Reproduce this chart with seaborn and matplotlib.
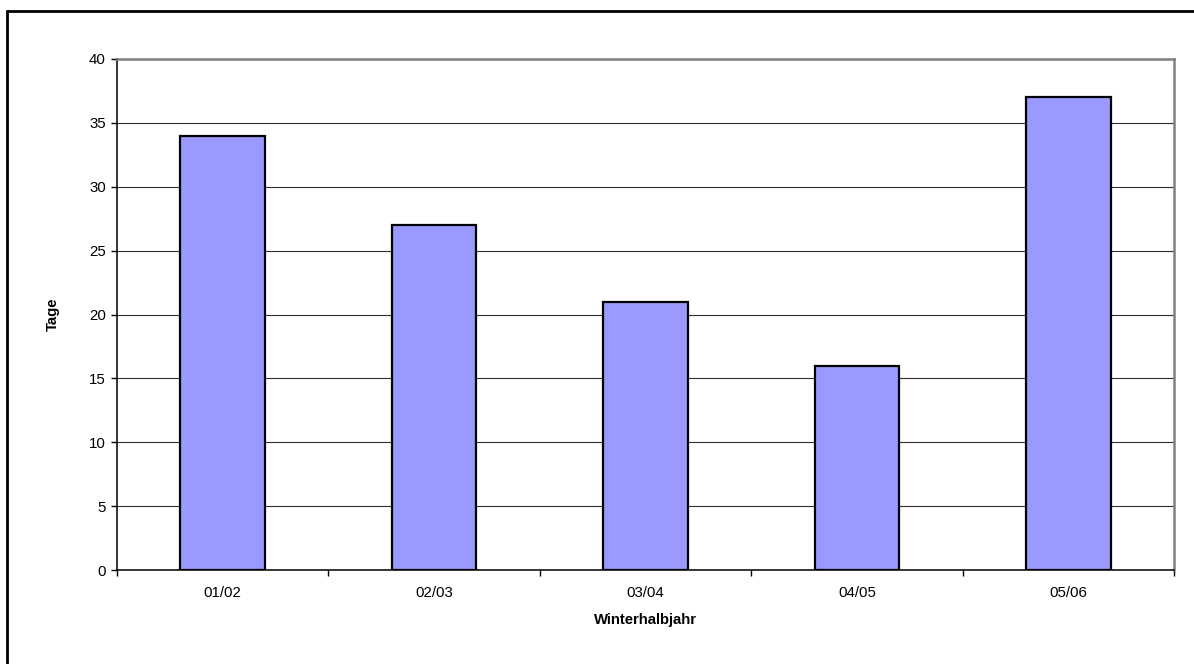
import numpy as np
import pandas as pd
import seaborn as sns
from matplotlib import pyplot as plt
from matplotlib.lines import Line2D

seasons = ['01/02', '02/03', '03/04', '04/05', '05/06']
days = [34, 27, 21, 16, 37]

W, H = 1194, 664

sns.set_style('white')
plt.rcParams['font.family'] = ['Liberation Sans', 'DejaVu Sans']
plt.rcParams['text.color'] = 'black'
plt.rcParams['xtick.labelcolor'] = 'black'
plt.rcParams['ytick.labelcolor'] = 'black'
plt.rcParams['axes.labelcolor'] = 'black'

fig = plt.figure(figsize=(W / 100, H / 100), dpi=100)
ax = fig.add_axes([117 / W, (H - 570) / H, (1174 - 117) / W, (570 - 59) / H])

df = pd.DataFrame({'season': seasons, 'days': days})
sns.barplot(data=df, x='season', y='days', color='#9999FF', saturation=1,
            width=0.4, edgecolor='black', linewidth=1.6, ax=ax, zorder=3)

ax.set_ylim(0, 40)
ax.set_yticks(np.arange(0, 41, 5))
ax.set_xlim(-0.5, len(seasons) - 0.5)
ax.yaxis.grid(True, color='#303030', linewidth=0.8)
ax.set_axisbelow(True)

# tick marks sit between the categories
ax.set_xticks(np.arange(-0.5, len(seasons), 1), minor=True)
ax.tick_params(axis='x', which='major', length=0, pad=11.5, labelsize=10.8)
ax.tick_params(axis='x', which='minor', length=4, width=1, color='black', direction='out')
ax.tick_params(axis='y', length=4, width=1, color='black', direction='out', pad=4, labelsize=10.8)
ax.tick_params(bottom=True, left=True, which='both')

for side in ['top', 'right']:
    ax.spines[side].set_color('#808080')
    ax.spines[side].set_linewidth(1.8)
for side in ['left', 'bottom']:
    ax.spines[side].set_color('black')
    ax.spines[side].set_linewidth(1.1)

ax.set_xlabel('Winterhalbjahr', fontsize=10.75, fontweight='bold')
ax.set_ylabel('Tage', fontsize=10.75, fontweight='bold')
ax.xaxis.set_label_coords(0.5, (570 - 613) / (570 - 59))
ax.yaxis.set_label_coords((60 - 117) / (1174 - 117), 0.5)

# outer chart frame (only left and top edges are visible)
fig.add_artist(Line2D([7 / W, 7 / W], [0, 1 - 11 / H], color='black', linewidth=2))
fig.add_artist(Line2D([7 / W, 1], [1 - 11 / H, 1 - 11 / H], color='black', linewidth=2))

fig.savefig('out.png', dpi=100)
